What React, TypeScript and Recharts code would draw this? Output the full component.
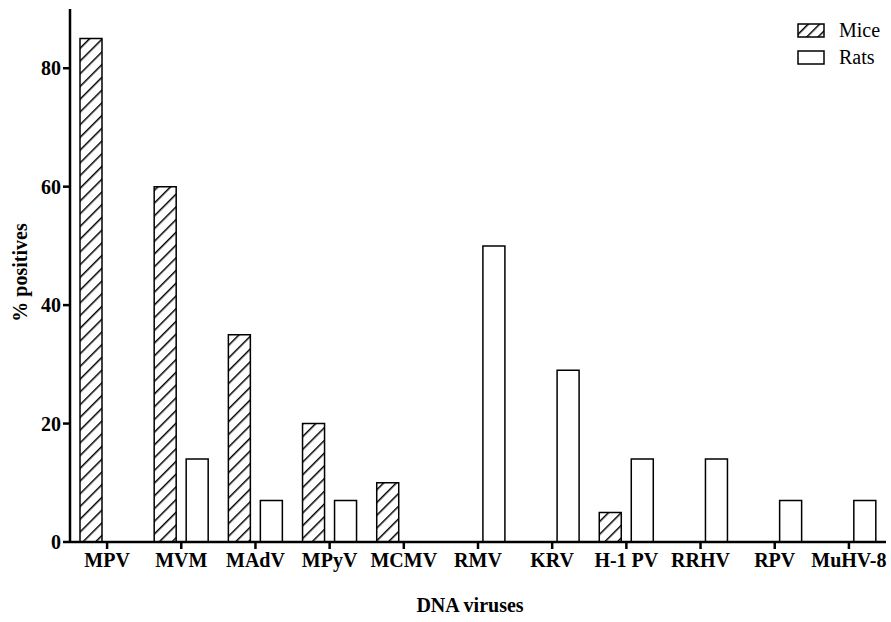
import { BarChart, Bar, XAxis, YAxis, Label } from 'recharts';

const viruses = ['MPV', 'MVM', 'MAdV', 'MPyV', 'MCMV', 'RMV', 'KRV', 'H-1 PV', 'RRHV', 'RPV', 'MuHV-8'];
const mice = [85, 60, 35, 20, 10, 0, 0, 5, 0, 0, 0];
const rats = [0, 14, 7, 7, 0, 50, 29, 14, 14, 7, 7];
const yTicks = [0, 20, 40, 60, 80];

const data = viruses.map((name, i) => ({ name, mice: mice[i], rats: rats[i] }));

const serif = '"Liberation Serif", "Times New Roman", serif';

function LegendBox() {
  const items = [
    { label: 'Mice', hatch: true },
    { label: 'Rats', hatch: false },
  ];
  return (
    <div style={{ position: 'absolute', left: 797, top: 17, fontFamily: serif, fontSize: 20 }}>
      {items.map((it) => (
        <div key={it.label} style={{ display: 'flex', alignItems: 'center', height: 27 }}>
          <svg width={30} height={16} style={{ marginRight: 12 }}>
            <defs>
              <pattern id="hatchLeg" patternUnits="userSpaceOnUse" width={8} height={8} patternTransform="rotate(45)">
                <rect width={8} height={8} fill="#fff" />
                <line x1={0} y1={0} x2={0} y2={8} stroke="#000" strokeWidth={3} />
              </pattern>
            </defs>
            <rect x={1} y={1} width={26} height={13} fill={it.hatch ? 'url(#hatchLeg)' : '#fff'} stroke="#000" strokeWidth={1.5} />
          </svg>
          <span>{it.label}</span>
        </div>
      ))}
    </div>
  );
}

export default function App() {
  return (
    <div style={{ position: 'absolute', left: 0, top: 0, width: 891, height: 622, background: '#fff' }}>
      <BarChart width={891} height={622} data={data} barSize={22} barGap={10}
        margin={{ top: 9, right: 5, bottom: 0, left: 10 }}>
        <defs>
          <pattern id="hatch" patternUnits="userSpaceOnUse" width={9} height={9} patternTransform="rotate(45)">
            <rect width={9} height={9} fill="#fff" />
            <line x1={0} y1={0} x2={0} y2={9} stroke="#000" strokeWidth={3} />
          </pattern>
        </defs>
        <XAxis dataKey="name" interval={0} height={80} axisLine={{ stroke: '#000', strokeWidth: 2.5 }}
          tickLine={{ stroke: '#000', strokeWidth: 2.5 }} tickSize={7}
          tick={{ fill: '#000', fontSize: 20, fontWeight: 'bold', fontFamily: serif, dy: 2 }}>
          <Label value="DNA viruses" position="insideBottom" offset={10} dx={-8}
            style={{ fill: '#000', fontSize: 20, fontWeight: 'bold', fontFamily: serif }} />
        </XAxis>
        <YAxis width={60} domain={[0, 90]} ticks={yTicks} allowDataOverflow
          axisLine={{ stroke: '#000', strokeWidth: 2.5 }}
          tickLine={{ stroke: '#000', strokeWidth: 2.5 }} tickSize={7}
          tick={{ fill: '#000', fontSize: 20, fontWeight: 'bold', fontFamily: serif }}>
          <Label value="% positives" angle={-90} position="insideLeft" offset={10} dy={-3}
            style={{ fill: '#000', fontSize: 20, fontWeight: 'bold', fontFamily: serif, textAnchor: 'middle' }} />
        </YAxis>
        <Bar dataKey="mice" name="Mice" fill="url(#hatch)" stroke="#000" strokeWidth={1.5} isAnimationActive={false} />
        <Bar dataKey="rats" name="Rats" fill="#fff" stroke="#000" strokeWidth={1.5} isAnimationActive={false} />
      </BarChart>
      <LegendBox />
    </div>
  );
}
